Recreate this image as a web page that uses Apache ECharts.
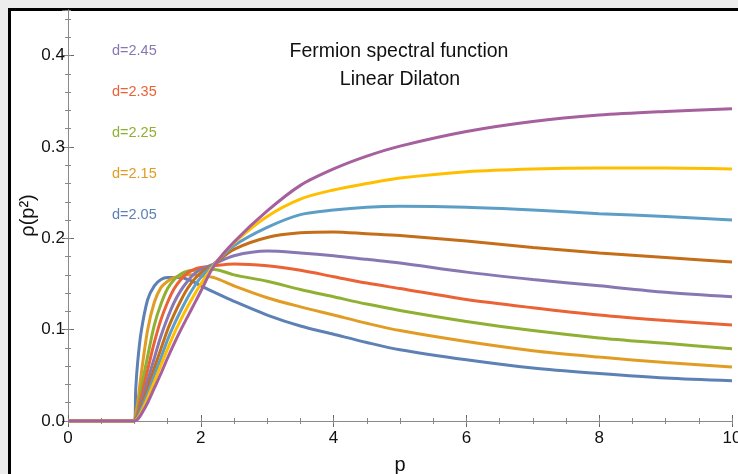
<!DOCTYPE html>
<html>
<head>
<meta charset="utf-8">
<script src="https://cdn.jsdelivr.net/npm/echarts@6/dist/echarts.min.js"></script>
<style>
  html, body { margin: 0; padding: 0; background: #ececec; }
  #chart { width: 738px; height: 474px; }
</style>
</head>
<body>
<div id="chart"></div>
<script>
const pValues = [0, 0.5, 1, 1.02, 1.05, 1.1, 1.2, 1.3, 1.4, 1.5, 1.6, 1.7, 1.8, 1.9, 2, 2.2, 2.5, 3, 3.5, 4, 4.5, 5, 6, 7, 8, 9, 10]

// rho(p^2), one list per d
const rhoD205 = [0, 0, 0, 0.035, 0.065, 0.097, 0.133, 0.148, 0.155, 0.157, 0.157, 0.157, 0.155, 0.152, 0.148, 0.141, 0.131, 0.116, 0.104, 0.095, 0.086, 0.078, 0.067, 0.058, 0.052, 0.047, 0.044]
const rhoD215 = [0, 0, 0, 0.008, 0.02, 0.05, 0.1, 0.13, 0.146, 0.153, 0.157, 0.159, 0.160, 0.160, 0.159, 0.157, 0.148, 0.135, 0.125, 0.116, 0.107, 0.099, 0.087, 0.077, 0.070, 0.064, 0.059]
const rhoD225 = [0, 0, 0, 0.004, 0.012, 0.034, 0.071, 0.105, 0.128, 0.145, 0.155, 0.161, 0.164, 0.165, 0.166, 0.166, 0.160, 0.153, 0.144, 0.136, 0.128, 0.121, 0.109, 0.099, 0.091, 0.085, 0.079]
const rhoD235 = [0, 0, 0, 0.003, 0.008, 0.025, 0.056, 0.086, 0.111, 0.130, 0.145, 0.155, 0.162, 0.166, 0.168, 0.170, 0.172, 0.170, 0.165, 0.158, 0.151, 0.145, 0.133, 0.124, 0.116, 0.110, 0.105]
const rhoD245 = [0, 0, 0, 0.002, 0.006, 0.019, 0.044, 0.069, 0.093, 0.113, 0.130, 0.143, 0.153, 0.161, 0.166, 0.172, 0.181, 0.186, 0.184, 0.181, 0.177, 0.173, 0.163, 0.155, 0.148, 0.141, 0.136]
const rhoD255 = [0, 0, 0, 0.0015, 0.005, 0.015, 0.036, 0.058, 0.079, 0.1, 0.117, 0.132, 0.145, 0.155, 0.162, 0.172, 0.188, 0.201, 0.206, 0.207, 0.205, 0.203, 0.197, 0.190, 0.184, 0.179, 0.174]
const rhoD265 = [0, 0, 0, 0.001, 0.004, 0.012, 0.03, 0.05, 0.069, 0.089, 0.106, 0.121, 0.135, 0.147, 0.157, 0.172, 0.192, 0.212, 0.226, 0.231, 0.234, 0.235, 0.234, 0.231, 0.227, 0.224, 0.220]
const rhoD275 = [0, 0, 0, 0.001, 0.003, 0.009, 0.025, 0.043, 0.061, 0.079, 0.096, 0.111, 0.125, 0.138, 0.150, 0.171, 0.195, 0.224, 0.243, 0.253, 0.260, 0.266, 0.273, 0.276, 0.277, 0.277, 0.276]
const rhoD285 = [0, 0, 0, 0.0005, 0.002, 0.007, 0.02, 0.036, 0.052, 0.069, 0.085, 0.1, 0.114, 0.128, 0.142, 0.170, 0.196, 0.230, 0.258, 0.276, 0.290, 0.301, 0.317, 0.328, 0.335, 0.339, 0.342]

const curves = [rhoD205, rhoD215, rhoD225, rhoD235, rhoD245, rhoD255, rhoD265, rhoD275, rhoD285]
const colors = ['#5E81B5', '#E19C24', '#8FB032', '#EB6235', '#8778B3', '#C56E1A', '#5D9EC7', '#FFBF00', '#A5609D']

const labelTexts = ['d=2.45', 'd=2.35', 'd=2.25', 'd=2.15', 'd=2.05']
const labelColors = ['#8778B3', '#EB6235', '#8FB032', '#E19C24', '#5E81B5']

const font = 'Liberation Sans, Arial, sans-serif'
const myChart = echarts.init(document.getElementById('chart'))

// frame pieces: every tick points into the plot
const axisLine = { show: true, lineStyle: { color: '#8a8a8a', width: 1 } }
const majorTick = { show: true, inside: true, length: 6, lineStyle: { color: '#666' } }
const minorTick = { show: true, inside: true, length: 3, lineStyle: { color: '#888' } }
const noSplit = { show: false }

// bare axes that only carry the small ticks
function tickAxis (pos, max, step) {
  return {
    type: 'value', min: 0, max: max, interval: step, position: pos, offset: 0,
    axisLabel: { show: false }, axisLine: { show: false },
    axisTick: minorTick, splitLine: noSplit
  }
}

// the label texts sit at fixed spots, like in the picture
const labelGraphics = labelTexts.map((t, i) => ({
  type: 'text',
  x: 112,
  y: 51 + i * 41,
  style: { text: t, fill: labelColors[i], font: '14.5px ' + font, textVerticalAlign: 'middle' }
}))

const option = {
  backgroundColor: '#ececec',
  animation: false,
  grid: { left: 68, right: 6, top: 10, bottom: 53, outerBoundsMode: 'none', containLabel: false },
  graphic: [
    { type: 'rect', shape: { x: 8, y: 8, width: 730, height: 466 }, style: { fill: '#000' }, z: -20 },
    { type: 'rect', shape: { x: 11, y: 11, width: 727, height: 463 }, style: { fill: '#fff' }, z: -19 },
    {
      type: 'text', x: 399, y: 52,
      style: { text: 'Fermion spectral function', fill: '#111', font: '19.5px ' + font, textAlign: 'center', textVerticalAlign: 'middle' }
    },
    {
      type: 'text', x: 400, y: 80,
      style: { text: 'Linear Dilaton', fill: '#111', font: '19.5px ' + font, textAlign: 'center', textVerticalAlign: 'middle' }
    }
  ].concat(labelGraphics),
  xAxis: [
    {
      type: 'value', min: 0, max: 10, interval: 2,
      name: 'p', nameLocation: 'middle', nameGap: 34, nameMoveOverlap: false,
      nameTextStyle: { fontSize: 20, color: '#111', fontFamily: font },
      axisLabel: { fontSize: 17, color: '#111', fontFamily: font, margin: 9 },
      axisLine: axisLine, axisTick: majorTick, splitLine: noSplit
    },
    {
      type: 'value', min: 0, max: 10, interval: 2, position: 'top',
      axisLabel: { show: false },
      axisLine: { show: false }, axisTick: majorTick, splitLine: noSplit
    },
    tickAxis('bottom', 10, 0.5),
    tickAxis('top', 10, 0.5)
  ],
  yAxis: [
    {
      type: 'value', min: 0, max: 0.45, interval: 0.1,
      name: 'ρ(p²)', nameLocation: 'middle', nameGap: 30, nameRotate: 90, nameMoveOverlap: false,
      nameTextStyle: { fontSize: 20, color: '#111', fontFamily: font },
      axisLabel: {
        fontSize: 17, color: '#111', fontFamily: font, margin: 3, showMaxLabel: false,
        formatter: v => v.toFixed(1)
      },
      axisLine: axisLine, axisTick: majorTick, splitLine: noSplit
    },
    {
      type: 'value', min: 0, max: 0.45, interval: 0.1, position: 'right',
      axisLabel: { show: false },
      axisLine: axisLine, axisTick: majorTick, splitLine: noSplit
    },
    tickAxis('left', 0.45, 0.02),
    tickAxis('right', 0.45, 0.02)
  ],
  series: curves.map((vals, i) => ({
    type: 'line',
    xAxisIndex: 0,
    yAxisIndex: 0,
    data: pValues.map((p, k) => [p, vals[k]]),
    smooth: 0.3,
    showSymbol: false,
    lineStyle: { color: colors[i], width: 3 },
    itemStyle: { color: colors[i] }
  }))
}

myChart.setOption(option)
</script>
</body>
</html>
